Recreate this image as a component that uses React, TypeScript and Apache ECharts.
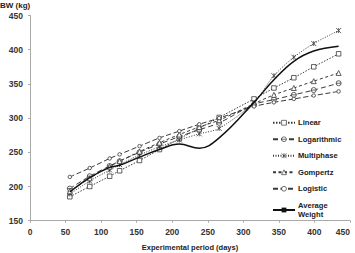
import React, { useEffect, useRef } from "react";
import * as echarts from "echarts";

const days = [56, 84, 112, 126, 154, 182, 210, 238, 266, 315, 343, 371, 399, 434];
const linear = [185, 200, 215, 223, 238, 254, 270, 285, 301, 328, 344, 359, 375, 394];
const logarithmic = [197, 215, 230, 237, 250, 262, 273, 283, 293, 320, 327, 334, 341, 351];
const multiphase = [189, 208, 224, 232, 246, 258, 268, 277, 285, 323, 362, 389, 409, 428];
const gompertz = [193, 212, 229, 237, 251, 264, 276, 287, 297, 321, 334, 344, 354, 366];
const logistic = [214, 227, 241, 247, 259, 271, 281, 291, 300, 317, 323, 328, 333, 339];
const averageWeight = [192, 213, 228, 231, 243, 254, 262, 256, 271, 323, 356, 383, 398, 405];

const seriesNames = ["Linear", "Logarithmic", "Multiphase", "Gompertz", "Logistic", "Average Weight"];
const yTicks = { min: 150, max: 450, interval: 50 };
const xTicks = { min: 0, max: 450, interval: 50 };

const pair = (vals: number[]) => days.map((d, i) => [d, vals[i]]);

const SQUARE = "path://M0,0L10,0L10,10L0,10Z";
const CIRCLE_BAR = "path://M5,0A5,5 0 1,1 5,10A5,5 0 1,1 5,0ZM0,5L10,5";
const XMARK = "path://M0,0L10,10M10,0L0,10M5,0L5,10";
const TRIANGLE = "path://M5,0L10,10L0,10Z";
const CIRCLE = "path://M5,0A5,5 0 1,1 5,10A5,5 0 1,1 5,0Z";
const BAR = "path://M0,4L10,4L10,6L0,6Z";

export default function App() {
  const ref = useRef<HTMLDivElement>(null);
  useEffect(() => {
    if (!ref.current) return;
    const chart = echarts.init(ref.current, null, { renderer: "svg" });
    const font = "Arial, 'Liberation Sans', sans-serif";
    const lineCol = "#3a3a3a";
    const mk = (
      name: string,
      vals: number[],
      symbol: string,
      type: any,
      size: number,
      smooth: boolean | number
    ) => ({
      name,
      type: "line",
      data: pair(vals),
      symbol,
      symbolSize: size,
      smooth,
      showAllSymbol: true,
      lineStyle: { color: lineCol, width: 1, type },
      itemStyle: { color: "#fff", borderColor: lineCol, borderWidth: 0.8 },
      z: 3,
    });
    chart.setOption({
      animation: false,
      backgroundColor: "#fff",
      grid: { left: 30, right: 5, top: 15.5, bottom: 32.3, containLabel: false, outerBoundsMode: "none" },
      xAxis: {
        type: "value",
        ...xTicks,
        name: "Experimental period (days)",
        nameLocation: "middle",
        nameGap: 23,
        nameTextStyle: { fontFamily: font, fontSize: 7.5, fontWeight: "bold", color: "#222" },
        axisLine: { lineStyle: { color: "#aaa" } },
        axisTick: { show: true, length: 2, lineStyle: { color: "#aaa" } },
        axisLabel: {
          fontFamily: font,
          fontSize: 8.5,
          fontWeight: "bold",
          color: "#333",
          margin: 7,
          alignMaxLabel: "right",
        },
        splitLine: { show: false },
      },
      yAxis: {
        type: "value",
        ...yTicks,
        axisLine: { show: true, lineStyle: { color: "#aaa" } },
        axisTick: { show: true, length: 2, lineStyle: { color: "#aaa" } },
        axisLabel: { fontFamily: font, fontSize: 8.5, fontWeight: "bold", color: "#333", margin: 7 },
        splitLine: { show: false },
      },
      graphic: [
        {
          type: "text",
          left: 0,
          top: 1,
          style: { text: "BW (kg)", font: `bold 8px ${font}`, fill: "#222" },
        },
      ],
      legend: {
        orient: "vertical",
        left: 267,
        top: 113,
        itemGap: 7,
        itemWidth: 22,
        itemHeight: 6,
        data: seriesNames,
        formatter: (n: string) => (n === "Average Weight" ? "Average\nWeight" : n),
        itemStyle: { borderWidth: 0.7 },
        textStyle: { fontFamily: font, fontSize: 7.6, fontWeight: "bold", color: "#222", padding: [0, 0, 0, -2], lineHeight: 9.5 },
      },
      series: [
        mk("Linear", linear, SQUARE, [1.5, 1.5], 4.5, false),
        mk("Logarithmic", logarithmic, CIRCLE_BAR, [5, 3], 5, 0.3),
        mk("Multiphase", multiphase, XMARK, [1, 1.5], 5, 0.3),
        mk("Gompertz", gompertz, TRIANGLE, [3, 2.5], 5, 0.3),
        mk("Logistic", logistic, CIRCLE, [5, 2.5], 3.5, 0.3),
        {
          name: "Average Weight",
          type: "line",
          data: pair(averageWeight),
          symbol: BAR,
          showSymbol: false,
          smooth: 0.4,
          lineStyle: { color: "#111", width: 1.5, type: "solid" },
          itemStyle: { color: "#111", borderWidth: 0 },
          z: 4,
        },
      ],
    });
    return () => chart.dispose();
  }, []);
  return <div ref={ref} style={{ width: 355, height: 253, position: "absolute", left: 0, top: 0 }} />;
}
